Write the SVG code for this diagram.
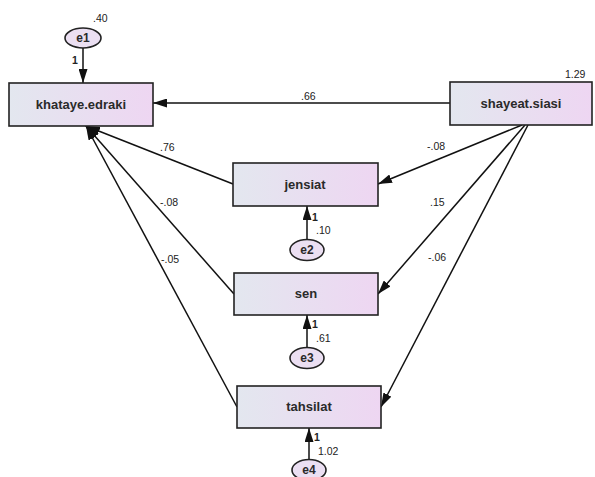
<svg xmlns="http://www.w3.org/2000/svg" width="595" height="477" viewBox="0 0 595 477">
<defs>
<linearGradient id="g" x1="0" y1="0" x2="1" y2="0">
<stop offset="0" stop-color="#e3e7ef"/>
<stop offset="1" stop-color="#eed6f2"/>
</linearGradient>
<marker id="ah" viewBox="0 0 14 9" refX="14" refY="4.5" markerWidth="14" markerHeight="9" markerUnits="userSpaceOnUse" orient="auto">
<path d="M0,0 L14,4.5 L0,9 z" fill="#111"/>
</marker>
<style>
.box{fill:url(#g);stroke:#222;stroke-width:1.6}
.ell{fill:#ebdff2;stroke:#222;stroke-width:1.6}
.nt{font-family:"Liberation Sans",Arial,sans-serif;font-size:13px;font-weight:bold;fill:#2a2a2a;text-anchor:middle}
.et{font-family:"Liberation Sans",Arial,sans-serif;font-size:12px;font-weight:bold;fill:#2a2a2a;text-anchor:middle}
.lb{font-family:"Liberation Sans",Arial,sans-serif;font-size:10.5px;fill:#222}
.one{font-weight:bold}
.c{stroke:#111;stroke-width:1.5;fill:none;marker-end:url(#ah)}
</style>
</defs>
<rect width="595" height="477" fill="#fff"/>
<g id="connectors">
<line class="c" x1="83" y1="48" x2="83" y2="83"/>
<line class="c" x1="450" y1="103" x2="153" y2="103"/>
<line class="c" x1="233" y1="184" x2="86" y2="126"/>
<line class="c" x1="234" y1="294" x2="86" y2="126"/>
<line class="c" x1="237" y1="407" x2="86" y2="126"/>
<line class="c" x1="522" y1="125" x2="378" y2="184"/>
<line class="c" x1="525" y1="125" x2="378" y2="294"/>
<line class="c" x1="528" y1="125" x2="381" y2="407"/>
<line class="c" x1="307" y1="239" x2="307" y2="206"/>
<line class="c" x1="307" y1="347" x2="307" y2="315"/>
<line class="c" x1="309" y1="460" x2="309" y2="428"/>
</g>
<g id="labels">
<text class="lb" x="93" y="22">.40</text>
<text class="lb one" x="72" y="64">1</text>
<text class="lb" x="565" y="78">1.29</text>
<text class="lb" x="301" y="100">.66</text>
<text class="lb" x="160" y="151">.76</text>
<text class="lb" x="160" y="206">-.08</text>
<text class="lb" x="161" y="263">-.05</text>
<text class="lb" x="427" y="150">-.08</text>
<text class="lb" x="430" y="206">.15</text>
<text class="lb" x="428" y="261">-.06</text>
<text class="lb one" x="312" y="221">1</text>
<text class="lb" x="316" y="234">.10</text>
<text class="lb one" x="312" y="328">1</text>
<text class="lb" x="316" y="342">.61</text>
<text class="lb one" x="314" y="441">1</text>
<text class="lb" x="318" y="455">1.02</text>
</g>
<g id="e1"><ellipse class="ell" cx="83" cy="38" rx="18" ry="10"/><text class="et" x="83" y="42">e1</text></g>
<g id="khataye.edraki"><rect class="box" x="9" y="83" width="144" height="43"/><text class="nt" x="81" y="109">khataye.edraki</text></g>
<g id="shayeat.siasi"><rect class="box" x="450" y="82" width="142" height="43"/><text class="nt" x="521" y="108">shayeat.siasi</text></g>
<g id="jensiat"><rect class="box" x="233" y="163" width="145" height="43"/><text class="nt" x="305" y="189">jensiat</text></g>
<g id="e2"><ellipse class="ell" cx="307" cy="250" rx="17" ry="10.5"/><text class="et" x="307" y="254">e2</text></g>
<g id="sen"><rect class="box" x="234" y="273" width="144" height="42"/><text class="nt" x="306" y="298">sen</text></g>
<g id="e3"><ellipse class="ell" cx="307" cy="358" rx="17" ry="10.5"/><text class="et" x="307" y="362">e3</text></g>
<g id="tahsilat"><rect class="box" x="237" y="386" width="144" height="42"/><text class="nt" x="309" y="411">tahsilat</text></g>
<g id="e4"><ellipse class="ell" cx="309" cy="470" rx="17" ry="10.5"/><text class="et" x="309" y="474">e4</text></g>
</svg>
